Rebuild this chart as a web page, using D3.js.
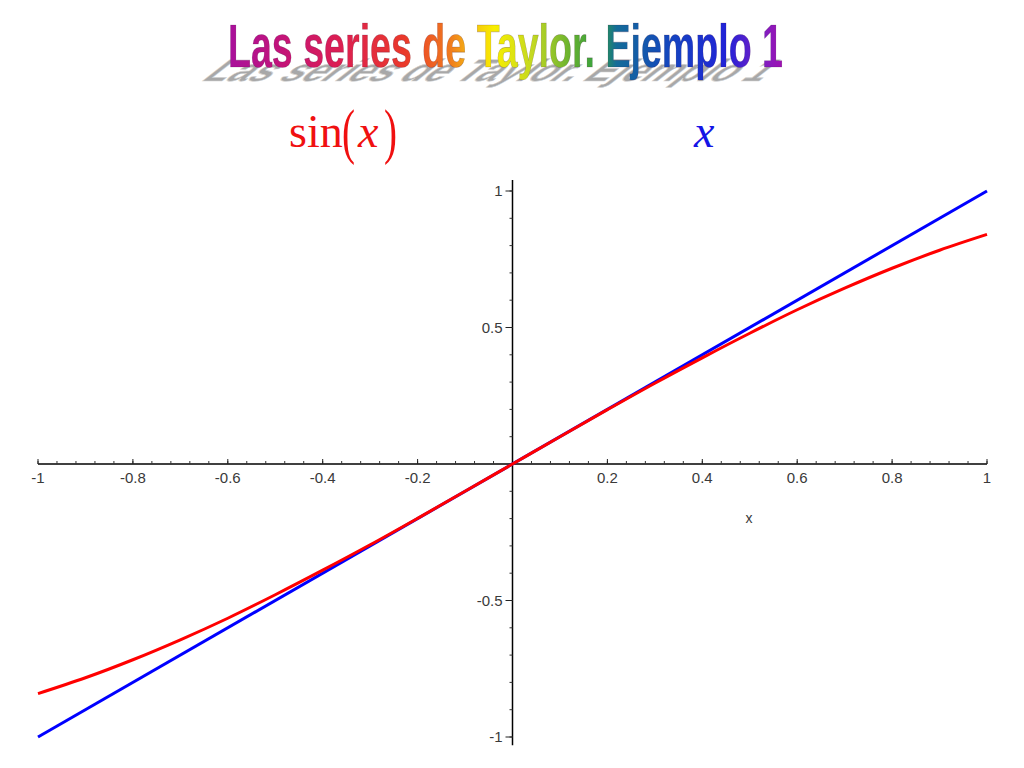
<!DOCTYPE html>
<html>
<head>
<meta charset="utf-8">
<script src="https://cdn.jsdelivr.net/npm/d3@7"></script>
<style>
  html, body { margin: 0; padding: 0; background: #ffffff; }
  svg { display: block; }
</style>
</head>
<body>
<svg id="chart" width="1024" height="768"></svg>
<script>
// ---- data ----
const titleText = "Las series de Taylor. Ejemplo 1";
const xValues    = [-1.0, -0.9, -0.8, -0.7, -0.6, -0.5, -0.4, -0.3, -0.2, -0.1, 0.0, 0.1, 0.2, 0.3, 0.4, 0.5, 0.6, 0.7, 0.8, 0.9, 1.0];
const sinValues  = [-0.841, -0.783, -0.717, -0.644, -0.565, -0.479, -0.389, -0.296, -0.199, -0.100, 0.0, 0.100, 0.199, 0.296, 0.389, 0.479, 0.565, 0.644, 0.717, 0.783, 0.841];
const lineXValues = [-1.0, 1.0];
const lineYValues = [-1.0, 1.0];
const xTickValues = [-1, -0.8, -0.6, -0.4, -0.2, 0.2, 0.4, 0.6, 0.8, 1];
const xTickLabels = ["-1", "-0.8", "-0.6", "-0.4", "-0.2", "0.2", "0.4", "0.6", "0.8", "1"];
const yTickValues = [-1, -0.5, 0.5, 1];
const yTickLabels = ["-1", "-0.5", "0.5", "1"];

const svg = d3.select("#chart");

// ---- scales ----
const x = d3.scaleLinear().domain([-1, 1]).range([38, 987]);
const y = d3.scaleLinear().domain([-1, 1]).range([737, 191]);

// ---- title with gradient & perspective shadow ----
const defs = svg.append("defs");
const grad = defs.append("linearGradient")
  .attr("id", "rainbow")
  .attr("gradientUnits", "userSpaceOnUse")
  .attr("x1", 228).attr("y1", 0).attr("x2", 783).attr("y2", 0);
const stops = [
  [0.00, "#a8109c"], [0.10, "#c41478"], [0.20, "#dc1e52"], [0.32, "#ea3a2a"],
  [0.40, "#f07a1e"], [0.44, "#f6c010"], [0.48, "#f8ee00"], [0.55, "#c2d822"],
  [0.62, "#64b030"], [0.67, "#30a040"], [0.70, "#146c98"], [0.80, "#1444c0"],
  [0.90, "#2222d8"], [0.96, "#7a20c4"], [1.00, "#a010b0"]
];
grad.selectAll("stop").data(stops).join("stop")
  .attr("offset", d => d[0]).attr("stop-color", d => d[1]);

const titleFont = "'Liberation Sans Narrow', 'Arial Narrow', 'Liberation Sans', Arial, sans-serif";

svg.append("text")
  .attr("transform", "translate(200,81) skewX(-52) scale(1,0.5)")
  .attr("x", 0).attr("y", 0)
  .attr("font-family", titleFont)
  .attr("font-weight", "bold")
  .attr("font-size", 62)
  .attr("textLength", 560)
  .attr("lengthAdjust", "spacingAndGlyphs")
  .attr("fill", "#a8a8a8")
  .attr("stroke", "#d4d4d4")
  .attr("stroke-width", 1.2)
  .text(titleText);

svg.append("text")
  .attr("x", 228).attr("y", 67)
  .attr("font-family", titleFont)
  .attr("font-weight", "bold")
  .attr("font-size", 62)
  .attr("textLength", 555)
  .attr("lengthAdjust", "spacingAndGlyphs")
  .attr("fill", "url(#rainbow)")
  .attr("stroke", "rgba(60,20,60,0.35)")
  .attr("stroke-width", 0.6)
  .text(titleText);

// ---- legend-like formula labels ----
const serif = "'Liberation Serif', 'Times New Roman', serif";
const sinLabel = svg.append("g").attr("fill", "#f01010").attr("font-family", serif);
sinLabel.append("text").attr("x", 289).attr("y", 147).attr("font-size", 46).text("sin");
sinLabel.append("text").attr("x", 342).attr("y", 152).attr("font-size", 62)
  .attr("textLength", 13).attr("lengthAdjust", "spacingAndGlyphs").text("(");
sinLabel.append("text").attr("x", 358).attr("y", 147).attr("font-size", 46).attr("font-style", "italic").text("x");
sinLabel.append("text").attr("x", 384).attr("y", 152).attr("font-size", 62)
  .attr("textLength", 13).attr("lengthAdjust", "spacingAndGlyphs").text(")");

svg.append("text")
  .attr("x", 694).attr("y", 147)
  .attr("font-family", serif).attr("font-size", 46).attr("font-style", "italic")
  .attr("fill", "#1414e6")
  .text("x");

// ---- axes ----
const axisColor = "#000000";
const labelFont = "'Liberation Sans', Arial, sans-serif";

// x axis line
const xAxisG = svg.append("g").attr("transform", `translate(0,${y(0)})`);
xAxisG.append("line").attr("x1", x(-1)).attr("x2", x(1)).attr("y1", 0).attr("y2", 0)
  .attr("stroke", axisColor).attr("stroke-width", 1.3);
// minor ticks every 0.04
const xMinor = d3.range(-25, 26).map(i => i * 0.04);
xAxisG.selectAll("line.minor").data(xMinor).join("line").attr("class", "minor")
  .attr("x1", d => x(d)).attr("x2", d => x(d)).attr("y1", 0).attr("y2", -3)
  .attr("stroke", "#333").attr("stroke-width", 1);
xAxisG.selectAll("line.major").data(xTickValues).join("line").attr("class", "major")
  .attr("x1", d => x(d)).attr("x2", d => x(d)).attr("y1", 0).attr("y2", -5)
  .attr("stroke", "#222").attr("stroke-width", 1);
xAxisG.selectAll("text.lbl").data(xTickValues).join("text").attr("class", "lbl")
  .attr("x", d => x(d)).attr("y", 19)
  .attr("text-anchor", "middle")
  .attr("font-family", labelFont).attr("font-size", 15)
  .attr("fill", "#3a3a3a")
  .text((d, i) => xTickLabels[i]);

svg.append("text")
  .attr("x", 749).attr("y", 523)
  .attr("text-anchor", "middle")
  .attr("font-family", labelFont).attr("font-size", 14)
  .attr("fill", "#3a3a3a")
  .text("x");

// y axis
const yAxisG = svg.append("g").attr("transform", `translate(${x(0)},0)`);
yAxisG.append("line").attr("x1", 0).attr("x2", 0).attr("y1", y(1.04)).attr("y2", y(-1.03))
  .attr("stroke", axisColor).attr("stroke-width", 1.5);
const yMinor = d3.range(-10, 11).map(i => i * 0.1);
yAxisG.selectAll("line.minor").data(yMinor).join("line").attr("class", "minor")
  .attr("x1", -3).attr("x2", 0).attr("y1", d => y(d)).attr("y2", d => y(d))
  .attr("stroke", "#333").attr("stroke-width", 1);
yAxisG.selectAll("line.major").data(yTickValues).join("line").attr("class", "major")
  .attr("x1", -7).attr("x2", 0).attr("y1", d => y(d)).attr("y2", d => y(d))
  .attr("stroke", "#222").attr("stroke-width", 1);
yAxisG.selectAll("text.lbl").data(yTickValues).join("text").attr("class", "lbl")
  .attr("x", -10).attr("y", d => y(d) + 5)
  .attr("text-anchor", "end")
  .attr("font-family", labelFont).attr("font-size", 15)
  .attr("fill", "#3a3a3a")
  .text((d, i) => yTickLabels[i]);

// ---- curves ----
const lineGen = d3.line().x(d => x(d[0])).y(d => y(d[1])).curve(d3.curveCatmullRom.alpha(0.5));

svg.append("path")
  .datum(lineXValues.map((v, i) => [v, lineYValues[i]]))
  .attr("d", lineGen)
  .attr("fill", "none").attr("stroke", "#0000ff").attr("stroke-width", 3);

svg.append("path")
  .datum(xValues.map((v, i) => [v, sinValues[i]]))
  .attr("d", lineGen)
  .attr("fill", "none").attr("stroke", "#ff0000").attr("stroke-width", 3);
</script>
</body>
</html>
